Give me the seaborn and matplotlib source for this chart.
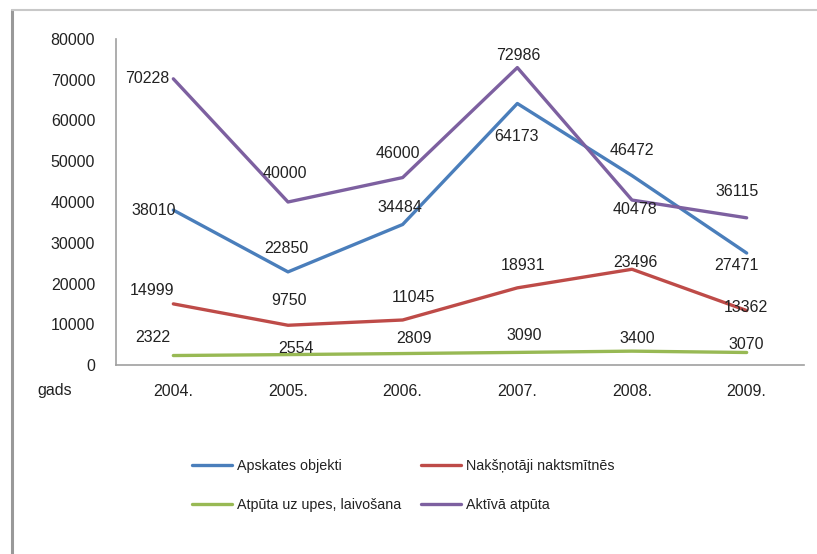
import pandas as pd
import numpy as np
import matplotlib
matplotlib.use("Agg")
import matplotlib.pyplot as plt
import seaborn as sns
from matplotlib.lines import Line2D

# data
years = ["2004.", "2005.", "2006.", "2007.", "2008.", "2009."]
apskates = [38010, 22850, 34484, 64173, 46472, 27471]
naksnotaji = [14999, 9750, 11045, 18931, 23496, 13362]
atputa_upes = [2322, 2554, 2809, 3090, 3400, 3070]
aktiva = [70228, 40000, 46000, 72986, 40478, 36115]

names = ["Apskates objekti", "Nakšņotāji naktsmītnēs",
         "Atpūta uz upes, laivošana", "Aktīvā atpūta"]
series = [apskates, naksnotaji, atputa_upes, aktiva]
colors = ["#4a7ebb", "#be4b48", "#98b954", "#7d60a0"]

rows = []
for n, vals in zip(names, series):
    for i, v in enumerate(vals):
        rows.append({"idx": i, "value": v, "series": n})
df = pd.DataFrame(rows)

# label offsets in pixels (dx, dy) - dy positive = up
offsets = {
    names[0]: [(-20, 0), (-2, 23), (-3, 17), (-1, -33), (0, 25), (-10, -12)],
    names[1]: [(-21, 13), (1, 25), (11, 22), (6, 22), (3, 7), (-1, 3)],
    names[2]: [(-21, 18), (8, 6), (11, 15), (7, 17), (5, 13), (0, 8)],
    names[3]: [(-26, 0), (-3, 29), (-5, 24), (1, 12), (3, -9), (-10, 26)],
}

sns.set_style("white")
plt.rcParams['font.family'] = ['Liberation Sans', 'DejaVu Sans']

fig = plt.figure(figsize=(8.17, 5.54), dpi=100)
ax = fig.add_axes([116/817, 1-365/554, (804-116)/817, (365-39)/554])

sns.lineplot(data=df, x="idx", y="value", hue="series", hue_order=names,
             palette=colors, linewidth=2.4, legend=False, ax=ax)

for n, vals in zip(names, series):
    for i, v in enumerate(vals):
        dx, dy = offsets[n][i]
        ax.annotate(str(v), (i, v), xytext=(dx, dy), textcoords="offset pixels",
                    ha="center", va="center", fontsize=11.5, color="#222222")

ax.set_xlim(-0.5, 5.5)
ax.set_ylim(0, 80000)
ax.set_yticks(np.arange(0, 80001, 10000))
ax.set_xticks(range(len(years)))
ax.set_xticklabels(years)
ax.tick_params(axis="both", length=0, labelsize=11.5, labelcolor="#222222")
ax.tick_params(axis="y", pad=15)
ax.tick_params(axis="x", pad=14)
ax.set_xlabel("")
ax.set_ylabel("")
for s in ["top", "right"]:
    ax.spines[s].set_visible(False)
for s in ["left", "bottom"]:
    ax.spines[s].set_color("#a0a0a0")
    ax.spines[s].set_linewidth(1.2)

fig.text(55/817, 1-391/554, "gads", ha="center", va="center", fontsize=11.5, color="#222222")

# outer frame
fig.add_artist(Line2D([12/817, 12/817], [0, 1-10/554], transform=fig.transFigure,
                      color="#999999", linewidth=2.2))
fig.add_artist(Line2D([12/817, 1], [1-10/554, 1-10/554], transform=fig.transFigure,
                      color="#c8c8c8", linewidth=1.5))

order = [0, 2, 1, 3]
handles = [Line2D([], [], color=colors[k], linewidth=2.4) for k in order]
labels = [names[k] for k in order]
fig.legend(handles, labels, loc="upper left", bbox_to_anchor=(179/817, 1-446/554),
           ncol=2, frameon=False, fontsize=10.3, handlelength=2.8,
           handletextpad=0.35, columnspacing=1.4, labelspacing=1.75,
           labelcolor="#222222")

fig.savefig("out.png", dpi=100)
